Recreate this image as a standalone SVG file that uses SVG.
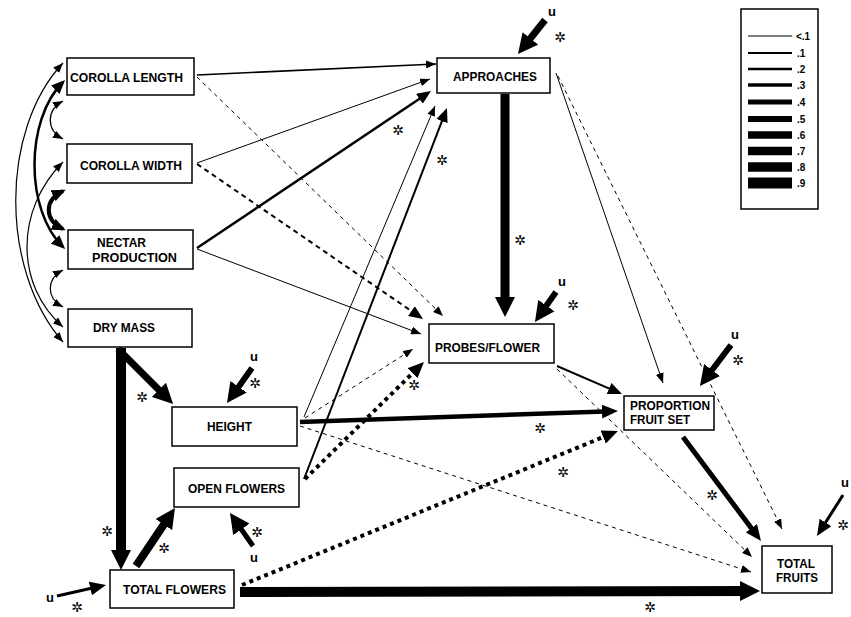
<svg xmlns="http://www.w3.org/2000/svg" width="851" height="617" viewBox="0 0 851 617">
<style>
.box{fill:#fff;stroke:#000;stroke-width:1.5}
.t{font-family:"Liberation Sans",Arial,sans-serif;font-weight:bold;font-size:13px;fill:#000}
.u{font-family:"Liberation Sans",Arial,sans-serif;font-weight:bold;font-size:13px;fill:#000;text-anchor:middle}
.ast{font-family:"DejaVu Sans",sans-serif;font-size:14px;fill:#000;text-anchor:middle;dominant-baseline:central}
.c{fill:none;stroke:#000}
.dash{stroke-dasharray:4 4}
.dot{stroke-dasharray:4 4}
.lg{font-family:"Liberation Sans",Arial,sans-serif;font-weight:bold;font-size:10px;fill:#000}
</style>
<defs>
<marker id="s" markerUnits="userSpaceOnUse" viewBox="0 0 10 8" markerWidth="10" markerHeight="8" refX="10" refY="4" orient="auto-start-reverse"><path d="M0,0 L10,4 L0,8 z"/></marker>
<marker id="m" markerUnits="userSpaceOnUse" viewBox="0 0 14 12" markerWidth="14" markerHeight="12" refX="11" refY="6" orient="auto-start-reverse"><path d="M0,0 L14,6 L0,12 z"/></marker>
<marker id="b" markerUnits="userSpaceOnUse" viewBox="0 0 16 14" markerWidth="16" markerHeight="14" refX="10" refY="7" orient="auto"><path d="M0,0 L16,7 L0,14 z"/></marker>
<marker id="x" markerUnits="userSpaceOnUse" viewBox="0 0 20 20" markerWidth="20" markerHeight="20" refX="10" refY="10" orient="auto"><path d="M0,0 L20,10 L0,20 z"/></marker>
</defs>
<rect width="851" height="617" fill="#fff"/>

<g id="connectors">
<!-- correlations -->
<path class="c" stroke-width="1.2" d="M63,101 C46,110 46,130 63,139" marker-start="url(#s)" marker-end="url(#s)"/>
<path class="c" stroke-width="4" d="M63,191 C44,200 44,220 63,229" marker-start="url(#m)" marker-end="url(#m)"/>
<path class="c" stroke-width="1.2" d="M63,270 C46,279 46,298 63,307" marker-start="url(#s)" marker-end="url(#s)"/>
<path class="c" stroke-width="2.5" d="M63,82 C25,120 25,210 63,247" marker-start="url(#m)" marker-end="url(#m)"/>
<path class="c" stroke-width="1.2" d="M63,63 C0,130 0,270 63,342" marker-start="url(#s)" marker-end="url(#s)"/>
<path class="c" stroke-width="1.2" d="M63,162 C15,210 15,285 63,327" marker-start="url(#s)" marker-end="url(#s)"/>
<!-- to approaches -->
<path class="c" stroke-width="1.6" d="M197,75 L436,64" marker-end="url(#s)"/>
<path class="c" stroke-width="1" d="M197,163 L430,79" marker-end="url(#s)"/>
<path class="c" stroke-width="2.5" d="M197,248 L428.5,92.7" marker-end="url(#m)"/>
<path class="c" stroke-width="1" d="M304,417 L435,106" marker-end="url(#s)"/>
<path class="c" stroke-width="2" d="M304,479 L445.9,110.8" marker-end="url(#m)"/>
<!-- to probes -->
<path class="c dash" stroke-width="1" d="M197,77 L443,316" marker-end="url(#s)"/>
<path class="c" stroke-width="2" stroke-dasharray="5 4" d="M197,164 L420.5,317.3" marker-end="url(#m)"/>
<path class="c" stroke-width="1" d="M197,249 L421,334" marker-end="url(#s)"/>
<path class="c dash" stroke-width="1" d="M305,418 L413,349" marker-end="url(#s)"/>
<path class="c dot" stroke-width="4" d="M305,479 L419.7,366.2" marker-end="url(#b)"/>
<path class="c" stroke-width="9" d="M505,94 L505,307" marker-end="url(#x)"/>
<!-- from approaches -->
<path class="c" stroke-width="1" d="M556,73 L663,383" marker-end="url(#s)"/>
<path class="c dash" stroke-width="1" d="M558,76 L782,529" marker-end="url(#s)"/>
<!-- from probes -->
<path class="c" stroke-width="2" d="M557,366 L619.2,392.8" marker-end="url(#m)"/>
<path class="c dash" stroke-width="1" d="M557,369 L752,557" marker-end="url(#s)"/>
<!-- from height -->
<path class="c" stroke-width="4.5" d="M300,422 L612,411.2" marker-end="url(#b)"/>
<path class="c dash" stroke-width="1" d="M300,426 L751,572" marker-end="url(#s)"/>
<!-- from total flowers -->
<path class="c dot" stroke-width="4" d="M242,585 L612.4,433.3" marker-end="url(#b)"/>
<path class="c" stroke-width="10" d="M240,592 L750,591" marker-end="url(#x)"/>
<!-- from proportion fruit set -->
<path class="c" stroke-width="5" d="M683,437 L757.4,536.2" marker-end="url(#b)"/>
<!-- from dry mass -->
<path class="c" stroke-width="7" d="M118,349 L166,396.9" marker-end="url(#x)"/>
<path class="c" stroke-width="10" d="M121,348 L121,560" marker-end="url(#x)"/>
<path class="c" stroke-width="8" d="M136,566 L169.4,516.3" marker-end="url(#x)"/>
<!-- residuals -->
<path class="c" stroke-width="7" d="M545,20 L524.2,46.2" marker-end="url(#x)"/>
<path class="c" stroke-width="6" d="M556,292 L540.7,313.8" marker-end="url(#x)"/>
<path class="c" stroke-width="6" d="M731,345 L706,378" marker-end="url(#x)"/>
<path class="c" stroke-width="3" d="M843,495 L820.2,530.9" marker-end="url(#b)"/>
<path class="c" stroke-width="6" d="M252,368 L232.8,394.9" marker-end="url(#x)"/>
<path class="c" stroke-width="5" d="M253,546 L235.7,521.2" marker-end="url(#x)"/>
<path class="c" stroke-width="3" d="M57,596 L100.1,586.3" marker-end="url(#b)"/>
</g>

<g id="node-corolla-length"><rect class="box" x="67" y="58" width="127" height="37"/><text class="t" x="70" y="82" textLength="113" lengthAdjust="spacingAndGlyphs">COROLLA LENGTH</text></g>
<g id="node-corolla-width"><rect class="box" x="67" y="144" width="125" height="39"/><text class="t" x="80" y="170" textLength="102" lengthAdjust="spacingAndGlyphs">COROLLA WIDTH</text></g>
<g id="node-nectar"><rect class="box" x="68" y="230" width="125" height="39"/><text class="t" x="97" y="247" textLength="49" lengthAdjust="spacingAndGlyphs">NECTAR</text><text class="t" x="92" y="262" textLength="85" lengthAdjust="spacingAndGlyphs">PRODUCTION</text></g>
<g id="node-dry-mass"><rect class="box" x="68" y="309" width="124" height="38"/><text class="t" x="93" y="332" textLength="62" lengthAdjust="spacingAndGlyphs">DRY MASS</text></g>
<g id="node-approaches"><rect class="box" x="437" y="58" width="113" height="35"/><text class="t" x="453" y="81" textLength="84" lengthAdjust="spacingAndGlyphs">APPROACHES</text></g>
<g id="node-probes"><rect class="box" x="429" y="324" width="125" height="39"/><text class="t" x="435" y="352" textLength="105" lengthAdjust="spacingAndGlyphs">PROBES/FLOWER</text></g>
<g id="node-proportion"><rect class="box" x="624" y="396" width="90" height="34"/><text class="t" x="630" y="410" textLength="80" lengthAdjust="spacingAndGlyphs">PROPORTION</text><text class="t" x="630" y="424" textLength="60" lengthAdjust="spacingAndGlyphs">FRUIT SET</text></g>
<g id="node-total-fruits"><rect class="box" x="762" y="546" width="70" height="47"/><text class="t" x="777" y="568" textLength="38" lengthAdjust="spacingAndGlyphs">TOTAL</text><text class="t" x="776" y="582" textLength="42" lengthAdjust="spacingAndGlyphs">FRUITS</text></g>
<g id="node-height"><rect class="box" x="172" y="407" width="125" height="39"/><text class="t" x="207" y="431" textLength="45" lengthAdjust="spacingAndGlyphs">HEIGHT</text></g>
<g id="node-open-flowers"><rect class="box" x="174" y="468" width="125" height="39"/><text class="t" x="188" y="493" textLength="97" lengthAdjust="spacingAndGlyphs">OPEN FLOWERS</text></g>
<g id="node-total-flowers"><rect class="box" x="110" y="570" width="124" height="38"/><text class="t" x="123" y="594" textLength="103" lengthAdjust="spacingAndGlyphs">TOTAL FLOWERS</text></g>

<g id="residual-labels">
<text class="u" x="552" y="16">u</text>
<text class="u" x="562" y="286">u</text>
<text class="u" x="735" y="339">u</text>
<text class="u" x="845" y="487">u</text>
<text class="u" x="254" y="361">u</text>
<text class="u" x="254" y="562">u</text>
<text class="u" x="50" y="602">u</text>
</g>

<g id="asterisks">
<text class="ast" x="560" y="37">✲</text>
<text class="ast" x="573" y="305">✲</text>
<text class="ast" x="738" y="360">✲</text>
<text class="ast" x="843" y="525">✲</text>
<text class="ast" x="255" y="383">✲</text>
<text class="ast" x="257" y="532">✲</text>
<text class="ast" x="77" y="607">✲</text>
<text class="ast" x="398" y="130">✲</text>
<text class="ast" x="442" y="160">✲</text>
<text class="ast" x="520" y="240">✲</text>
<text class="ast" x="414" y="385">✲</text>
<text class="ast" x="142" y="397">✲</text>
<text class="ast" x="107" y="531">✲</text>
<text class="ast" x="164" y="548">✲</text>
<text class="ast" x="540" y="428">✲</text>
<text class="ast" x="563" y="472">✲</text>
<text class="ast" x="712" y="495">✲</text>
<text class="ast" x="650" y="607">✲</text>
</g>

<g id="legend">
<rect x="741" y="9" width="77" height="200" fill="#fff" stroke="#000" stroke-width="1.5"/>
<g stroke="#000">
<line x1="748" y1="36" x2="792" y2="36" stroke-width="1"/>
<line x1="748" y1="53" x2="792" y2="53" stroke-width="1.8"/>
<line x1="748" y1="69" x2="792" y2="69" stroke-width="2.5"/>
<line x1="748" y1="85" x2="792" y2="85" stroke-width="3.5"/>
<line x1="748" y1="102" x2="792" y2="102" stroke-width="5"/>
<line x1="748" y1="119" x2="792" y2="119" stroke-width="6"/>
<line x1="748" y1="135" x2="792" y2="135" stroke-width="7.5"/>
<line x1="748" y1="151" x2="792" y2="151" stroke-width="8.5"/>
<line x1="748" y1="167" x2="792" y2="167" stroke-width="9.5"/>
<line x1="748" y1="183" x2="792" y2="183" stroke-width="11"/>
</g>
<text class="lg" x="796" y="40">&lt;.1</text>
<text class="lg" x="797" y="57">.1</text>
<text class="lg" x="797" y="73">.2</text>
<text class="lg" x="797" y="89">.3</text>
<text class="lg" x="797" y="106">.4</text>
<text class="lg" x="797" y="123">.5</text>
<text class="lg" x="797" y="139">.6</text>
<text class="lg" x="797" y="155">.7</text>
<text class="lg" x="797" y="171">.8</text>
<text class="lg" x="797" y="187">.9</text>
</g>
</svg>
